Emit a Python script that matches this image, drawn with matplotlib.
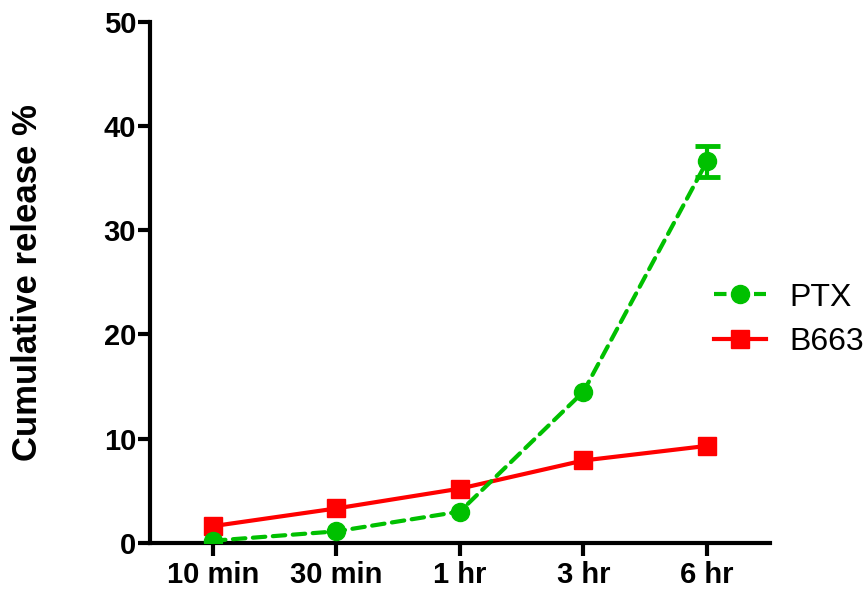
import matplotlib.pyplot as plt
from matplotlib.lines import Line2D

plt.rcParams['font.family'] = ['Liberation Sans', 'DejaVu Sans']

times = ["10 min", "30 min", "1 hr", "3 hr", "6 hr"]
ptx = [0.2, 1.1, 3.0, 14.5, 36.6]
ptx_err = [0, 0, 0, 0, 1.45]
b663 = [1.6, 3.3, 5.2, 7.9, 9.3]

green = "#00c000"
red = "#ff0000"

fig = plt.figure(figsize=(8.67, 5.9), dpi=100)
ax = fig.add_axes([0.173, 0.08, 0.715, 0.883])

x = list(range(len(times)))
dash = (3, 1.8)
ax.plot(x, ptx, color=green, ls="--", lw=3, dashes=dash, marker="o", ms=13,
        dash_capstyle="round", zorder=3)
# error bars only where there is spread
ex = [xi for xi, e in zip(x, ptx_err) if e > 0]
ey = [yi for yi, e in zip(ptx, ptx_err) if e > 0]
ee = [e for e in ptx_err if e > 0]
ax.errorbar(ex, ey, yerr=ee, fmt="none", ecolor=green, elinewidth=3,
            capsize=9, capthick=3.5, zorder=3)
ax.plot(x, b663, color=red, lw=3, marker="s", ms=13, zorder=2)

ax.set_xlim(-0.51, 4.51)
ax.set_ylim(0, 50)
ax.set_yticks([0, 10, 20, 30, 40, 50])
ax.set_xticks(x)
ax.set_xticklabels(times)
for s in ["top", "right"]:
    ax.spines[s].set_visible(False)
for s in ["left", "bottom"]:
    ax.spines[s].set_linewidth(3)
ax.tick_params(axis="y", width=3, length=9, labelsize=21, pad=1)
ax.tick_params(axis="x", width=3, length=9, labelsize=21, pad=4)
for lab in ax.get_xticklabels() + ax.get_yticklabels():
    lab.set_fontweight("bold")
ax.set_ylabel("Cumulative release %", fontsize=25, fontweight="bold", labelpad=43)

handles = [
    Line2D([], [], color=green, ls="--", lw=3, dashes=dash, marker="o", ms=13),
    Line2D([], [], color=red, lw=3, marker="s", ms=13),
]
fig.legend(handles, ["PTX", "B663"], loc="center left",
           bbox_to_anchor=(0.824, 0.458), frameon=False, fontsize=23,
           borderpad=0, borderaxespad=0,
           handlelength=1.6, labelspacing=0.45, handletextpad=0.75)

fig.savefig("out.png", dpi=100)
